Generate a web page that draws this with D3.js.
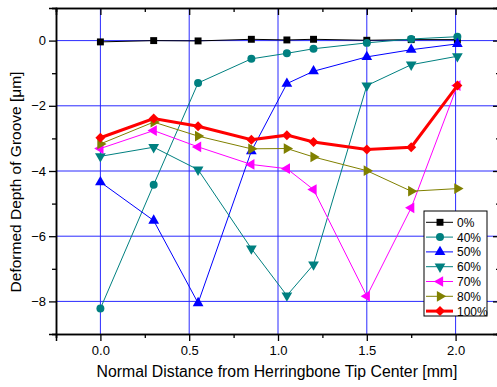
<!DOCTYPE html>
<html>
<head>
<meta charset="utf-8">
<script src="https://cdn.jsdelivr.net/npm/d3@7"></script>
<style>
  body { margin: 0; background: #fff; }
  text { font-family: "Liberation Sans", Arial, sans-serif; fill: #000; }
</style>
</head>
<body>
<div id="chart"></div>
<script>
// distances along the groove [mm]
const xs = [0, 0.3, 0.55, 0.85, 1.05, 1.2, 1.5, 1.75, 2.01];

// deformed depth per compression level [um]
const d0   = [-0.04, 0.0, -0.01, 0.04, 0.02, 0.04, 0.01, 0.03, 0.03];
const d40  = [-8.22, -4.42, -1.3, -0.56, -0.39, -0.25, -0.07, 0.05, 0.12];
const d50  = [-4.34, -5.52, -8.05, -3.39, -1.32, -0.94, -0.5, -0.28, -0.1];
const d60  = [-3.55, -3.27, -3.96, -6.38, -7.82, -6.87, -1.38, -0.74, -0.48];
const d70  = [-3.31, -2.76, -3.26, -3.8, -3.93, -4.57, -7.84, -5.13, -1.38];
const d80  = [-3.17, -2.5, -2.93, -3.32, -3.31, -3.57, -3.99, -4.62, -4.54];
const d100 = [-2.98, -2.39, -2.63, -3.04, -2.9, -3.11, -3.34, -3.27, -1.38];

const labels = ['0%', '40%', '50%', '60%', '70%', '80%', '100%'];
const xTicks = [0, 0.5, 1.0, 1.5, 2.0];
const yTicks = [0, -2, -4, -6, -8];

const series = [
  {name: labels[0], vals: d0,   color: '#000000', shape: d3.symbolSquare,   rot: 0,   size: 48, lw: 1},
  {name: labels[1], vals: d40,  color: '#008080', shape: d3.symbolCircle,   rot: 0,   size: 50, lw: 1},
  {name: labels[2], vals: d50,  color: '#0000ff', shape: d3.symbolTriangle, rot: 0,   size: 50, lw: 1},
  {name: labels[3], vals: d60,  color: '#008080', shape: d3.symbolTriangle, rot: 180, size: 50, lw: 1},
  {name: labels[4], vals: d70,  color: '#ff00ff', shape: d3.symbolTriangle, rot: -90, size: 50, lw: 1},
  {name: labels[5], vals: d80,  color: '#808000', shape: d3.symbolTriangle, rot: 90,  size: 50, lw: 1},
  {name: labels[6], vals: d100, color: '#ff0000', shape: d3.symbolSquare,   rot: 45,  size: 50, lw: 3}
];

const W = 497, H = 387;
const m = {left: 56, right: 500, top: 8, bottom: 334};

const svg = d3.select('#chart').append('svg')
  .attr('width', W).attr('height', H);

const x = d3.scaleLinear().domain([-0.25, 2.25]).range([m.left, m.right]);
const y = d3.scaleLinear().domain([-9, 1]).range([m.bottom, m.top]);

// grid
const grid = svg.append('g');
grid.selectAll('.vg').data(xTicks).enter().append('line')
  .attr('x1', d => x(d)).attr('x2', d => x(d))
  .attr('y1', m.top).attr('y2', m.bottom)
  .attr('stroke', '#2a2aff').attr('stroke-width', 1);
grid.selectAll('.hg').data(yTicks).enter().append('line')
  .attr('x1', m.left).attr('x2', m.right)
  .attr('y1', d => y(d)).attr('y2', d => y(d))
  .attr('stroke', '#2a2aff').attr('stroke-width', 1);

// series
const line = d3.line().x(d => x(d[0])).y(d => y(d[1]));
series.forEach(s => {
  const pts = xs.map((v, i) => [v, s.vals[i]]);
  const g = svg.append('g');
  g.append('path').datum(pts)
    .attr('d', line)
    .attr('fill', 'none')
    .attr('stroke', s.color)
    .attr('stroke-width', s.lw);
  g.selectAll('path.mk').data(pts).enter().append('path')
    .attr('class', 'mk')
    .attr('d', d3.symbol().type(s.shape).size(s.size))
    .attr('transform', d => `translate(${x(d[0])},${y(d[1])}) rotate(${s.rot})`)
    .attr('fill', s.color);
});

// axes (major + minor ticks on all four sides)
const minorX = [-0.25, 0.25, 0.75, 1.25, 1.75, 2.25];
const minorY = [-9, -7, -5, -3, -1, 1];

svg.append('g').attr('transform', `translate(0,${m.bottom})`)
  .call(d3.axisBottom(x).tickValues(xTicks).tickFormat(d3.format('.1f')).tickSize(7).tickPadding(5));
svg.append('g').attr('transform', `translate(0,${m.bottom})`)
  .call(d3.axisBottom(x).tickValues(minorX).tickFormat('').tickSize(4));

svg.append('g').attr('transform', `translate(${m.left},0)`)
  .call(d3.axisLeft(y).tickValues(yTicks).tickFormat(d3.format('d')).tickSize(7).tickPadding(3));
svg.append('g').attr('transform', `translate(${m.left},0)`)
  .call(d3.axisLeft(y).tickValues(minorY).tickFormat('').tickSize(4));

svg.append('g').attr('transform', `translate(0,${m.top})`)
  .call(d3.axisBottom(x).tickValues(xTicks).tickFormat('').tickSize(7));
svg.append('g').attr('transform', `translate(0,${m.top})`)
  .call(d3.axisBottom(x).tickValues(minorX).tickFormat('').tickSize(4));
svg.append('g').attr('transform', `translate(${m.right},0)`)
  .call(d3.axisLeft(y).tickValues(yTicks).tickFormat('').tickSize(7));
svg.append('g').attr('transform', `translate(${m.right},0)`)
  .call(d3.axisLeft(y).tickValues(minorY).tickFormat('').tickSize(4));

svg.selectAll('.domain').attr('stroke', '#000').attr('stroke-width', 1.5);
svg.selectAll('.tick line').attr('stroke', '#000').attr('stroke-width', 1.3);
svg.selectAll('.tick text').style('font-size', '13px').style('font-family', '"Liberation Sans", Arial, sans-serif');

// titles
svg.append('text')
  .attr('x', (m.left + m.right) / 2 - 1).attr('y', 377)
  .attr('text-anchor', 'middle')
  .style('font-size', '15.8px')
  .text('Normal Distance from Herringbone Tip Center [mm]');
svg.append('text')
  .attr('transform', `translate(21,182) rotate(-90)`)
  .attr('text-anchor', 'middle')
  .style('font-size', '15.5px')
  .text('Deformed Depth of Groove [\u03bcm]');

// legend
const lg = svg.append('g').attr('transform', 'translate(424,211)');
lg.append('rect').attr('width', 63).attr('height', 105)
  .attr('fill', '#fff').attr('stroke', '#000').attr('stroke-width', 1);
series.forEach((s, i) => {
  const yy = 11.3 + i * 14.8;
  lg.append('line').attr('x1', 2).attr('x2', 29).attr('y1', yy).attr('y2', yy)
    .attr('stroke', s.color).attr('stroke-width', s.lw);
  lg.append('path')
    .attr('d', d3.symbol().type(s.shape).size(s.size))
    .attr('transform', `translate(16,${yy}) rotate(${s.rot})`)
    .attr('fill', s.color);
  lg.append('text').attr('x', 33).attr('y', yy + 4.4)
    .style('font-size', '12px').text(s.name);
});
</script>
</body>
</html>
